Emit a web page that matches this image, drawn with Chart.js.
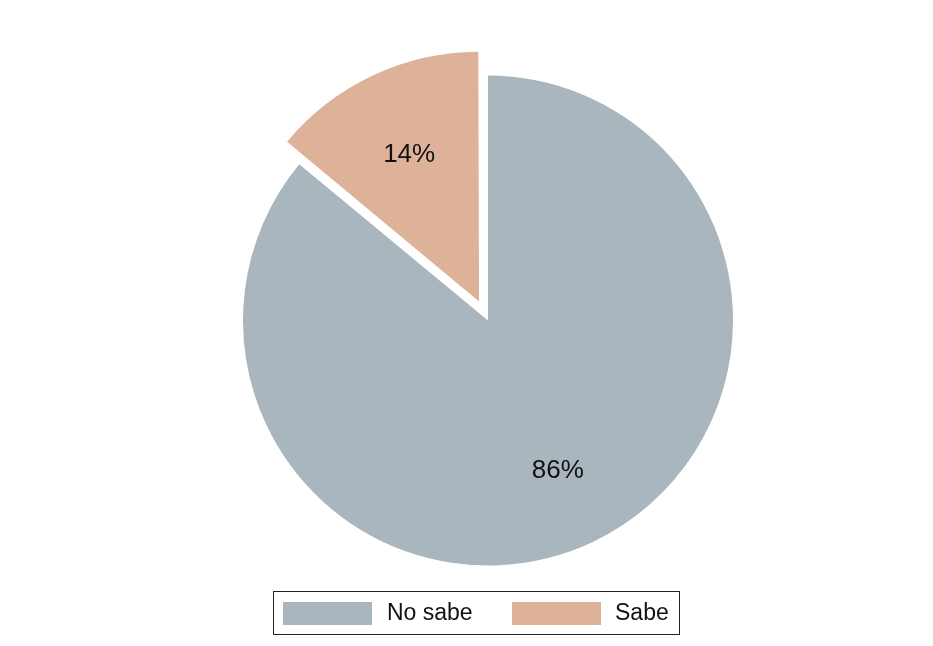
<!DOCTYPE html>
<html>
<head>
<meta charset="utf-8">
<script src="https://cdn.jsdelivr.net/npm/chart.js@4/dist/chart.umd.min.js"></script>
<style>
  html, body { margin: 0; padding: 0; background: #ffffff; }
  #wrap { width: 933px; height: 646px; position: relative; }
</style>
</head>
<body>
<div id="wrap"><canvas id="c" width="933" height="646"></canvas></div>
<script>
const categories = ["No sabe", "Sabe"];
const values = [86, 14];
const valueLabels = ["86%", "14%"];
const colors = ["#AAB6BE", "#DEB298"];
const explode = [0, 84];

const labelPlugin = {
  id: 'sliceLabels',
  afterDatasetsDraw(chart) {
    const ctx = chart.ctx;
    const meta = chart.getDatasetMeta(0);
    ctx.save();
    ctx.font = '26px "Liberation Sans", Arial, sans-serif';
    ctx.fillStyle = '#111111';
    ctx.textAlign = 'center';
    ctx.textBaseline = 'middle';
    meta.data.forEach((arc, i) => {
      const p = arc.getProps(['x', 'y', 'startAngle', 'endAngle', 'outerRadius'], true);
      const mid = (p.startAngle + p.endAngle) / 2;
      const shift = (arc.options.offset || 0) / 4;
      const r = p.outerRadius * 0.67;
      const x = p.x + Math.cos(mid) * (shift + r);
      const y = p.y + Math.sin(mid) * (shift + r) + 2;
      ctx.fillText(valueLabels[i], x, y);
    });
    ctx.restore();
  }
};

const legendPlugin = {
  id: 'boxLegend',
  afterDraw(chart) {
    const ctx = chart.ctx;
    ctx.save();
    ctx.strokeStyle = '#222222';
    ctx.lineWidth = 1;
    ctx.strokeRect(273.5, 591.5, 406, 43);
    ctx.font = '23px "Liberation Sans", Arial, sans-serif';
    ctx.textBaseline = 'middle';
    ctx.textAlign = 'left';
    const boxX = [283, 512];
    const textX = [387, 615];
    categories.forEach((c, i) => {
      ctx.fillStyle = colors[i];
      ctx.fillRect(boxX[i], 602, 89, 23);
      ctx.fillStyle = '#111111';
      ctx.fillText(c, textX[i], 614);
    });
    ctx.restore();
  }
};

new Chart(document.getElementById('c'), {
  type: 'pie',
  data: {
    labels: categories,
    datasets: [{
      data: values,
      backgroundColor: colors,
      borderWidth: 0,
      offset: explode
    }]
  },
  options: {
    responsive: false,
    animation: false,
    events: [],
    radius: 245,
    layout: { padding: { top: 75, bottom: 80, left: 243, right: 200 } },
    plugins: {
      legend: { display: false },
      tooltip: { enabled: false }
    }
  },
  plugins: [labelPlugin, legendPlugin]
});
</script>
</body>
</html>
